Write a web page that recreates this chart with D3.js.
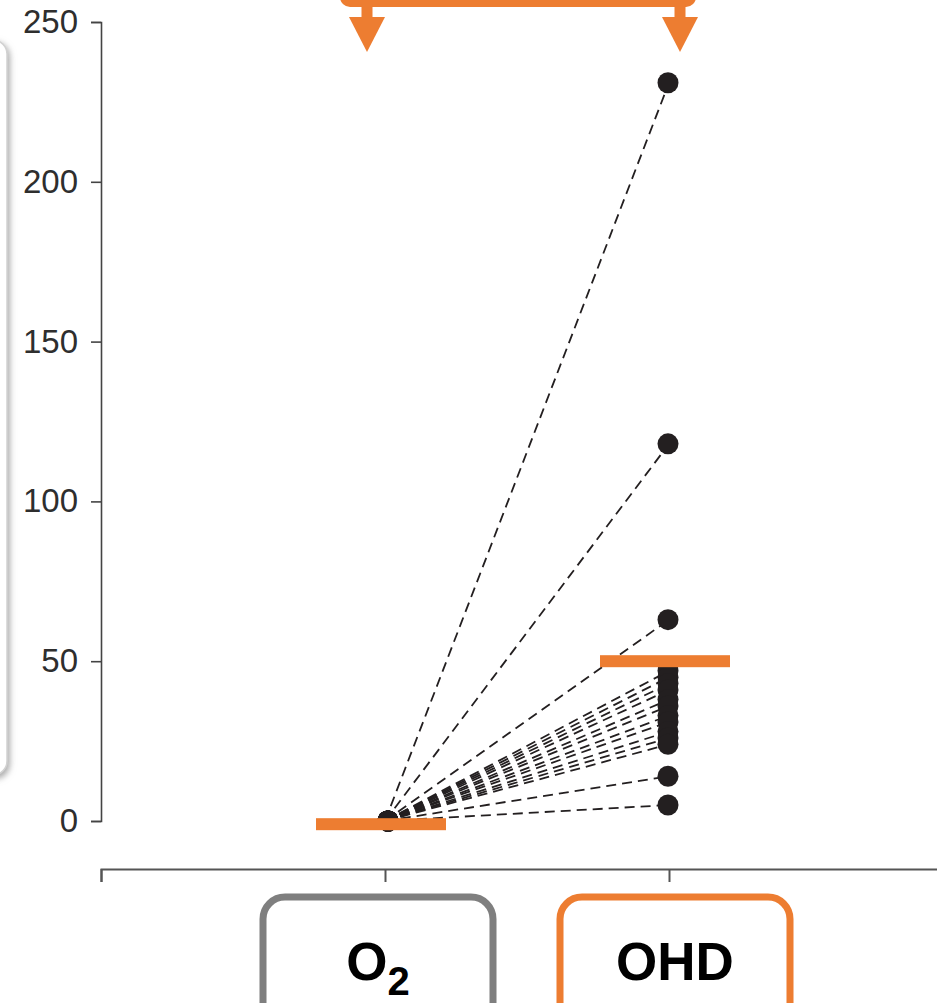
<!DOCTYPE html>
<html>
<head>
<meta charset="utf-8">
<script src="https://cdn.jsdelivr.net/npm/d3@7"></script>
<style>
  html, body { margin: 0; padding: 0; background: #fff; }
  svg { display: block; }
</style>
</head>
<body>
<div id="chart"></div>
<script>
// Paired measurements: each subject under O2 and under OHD
const categories = ["O2", "OHD"];
const o2Values  = [0, 0, 0, 0, 0, 0, 0, 0, 0, 0, 0, 0, 0, 0, 0, 0];
const ohdValues = [231, 118, 63, 47, 45, 43, 41, 38, 36, 33, 31, 28, 26, 24, 14, 5];
const medianValues = [-1, 50];
const yTicks = [0, 50, 100, 150, 200, 250];

const W = 937, H = 1003;
const orange = "#ED7D31";
const ink = "#231f20";

const svg = d3.select("#chart").append("svg")
  .attr("width", W).attr("height", H);

const defs = svg.append("defs");
const shadow = defs.append("filter").attr("id", "soft-shadow")
  .attr("x", "-50%").attr("y", "-10%").attr("width", "200%").attr("height", "120%");
shadow.append("feDropShadow")
  .attr("dx", 2).attr("dy", 3).attr("stdDeviation", 3)
  .attr("flood-color", "#999").attr("flood-opacity", 0.85);

// Side panel edge on the left
svg.append("rect")
  .attr("x", -40).attr("y", 40).attr("width", 47).attr("height", 735)
  .attr("rx", 14)
  .attr("fill", "#fff").attr("stroke", "#d2d2d2").attr("stroke-width", 1.5)
  .attr("filter", "url(#soft-shadow)");

// Scales: categories sit at positions 1 and 2 on a 0..3 axis
const x = d3.scaleLinear().domain([0, 3]).range([101, 953]);
const y = d3.scaleLinear().domain([0, 250]).range([821, 22]);
const catX = i => x(i + 1);

// Y axis
const yAxis = svg.append("g")
  .attr("transform", `translate(${x(0)},0)`)
  .call(d3.axisLeft(y).tickValues(yTicks).tickSize(10).tickPadding(13));
yAxis.select(".domain").attr("stroke", "#444").attr("stroke-width", 1.6);
yAxis.selectAll(".tick line").attr("stroke", "#444").attr("stroke-width", 1.6);
yAxis.selectAll(".tick text")
  .attr("font-family", "'Liberation Sans', Arial, sans-serif")
  .attr("font-size", 33).attr("fill", "#2e2e2e");

// X axis (no tick labels; categories are boxed below)
const xAxis = svg.append("g")
  .attr("transform", "translate(0,869)")
  .call(d3.axisBottom(x).tickValues([0, 1, 2, 3]).tickSize(13).tickFormat(""));
xAxis.select(".domain").attr("stroke", "#555").attr("stroke-width", 2);
xAxis.selectAll(".tick line").attr("stroke", "#555").attr("stroke-width", 2);

// Dashed connectors between paired values
const pairs = o2Values.map((v, i) => ({ a: v, b: ohdValues[i] }));
svg.append("g").selectAll("line").data(pairs).join("line")
  .attr("x1", catX(0)).attr("y1", d => y(d.a))
  .attr("x2", catX(1)).attr("y2", d => y(d.b))
  .attr("stroke", ink).attr("stroke-width", 1.8)
  .attr("stroke-dasharray", "10,6");

// Points
const dotR = 10.5;
svg.append("g").selectAll("circle.o2").data(o2Values).join("circle")
  .attr("class", "o2")
  .attr("cx", catX(0) + 3).attr("cy", d => y(d)).attr("r", dotR).attr("fill", ink);
svg.append("g").selectAll("circle.ohd").data(ohdValues).join("circle")
  .attr("class", "ohd")
  .attr("cx", catX(1) - 1).attr("cy", d => y(d)).attr("r", dotR).attr("fill", ink);

// Median bars
const barW = 130, barH = 12, barShift = -4;
svg.append("g").selectAll("rect").data(medianValues).join("rect")
  .attr("x", (d, i) => catX(i) + barShift - barW / 2)
  .attr("y", d => y(d) - barH / 2)
  .attr("width", barW).attr("height", barH)
  .attr("fill", orange);

// Comparison bracket with arrows at the top
const bracket = svg.append("g").attr("fill", orange);
const leftTip = catX(0) - 18, rightTip = catX(1) + 11;
bracket.append("rect")
  .attr("x", leftTip - 27).attr("y", -20)
  .attr("width", (rightTip + 16) - (leftTip - 27)).attr("height", 27)
  .attr("rx", 10);
[leftTip, rightTip].forEach(tx => {
  bracket.append("rect").attr("x", tx - 5.5).attr("y", 4).attr("width", 11).attr("height", 15);
  bracket.append("path")
    .attr("d", `M${tx - 18},17 L${tx + 18},17 L${tx},52 Z`);
});

// Category label boxes
const boxes = [
  { label: "O", sub: "2", stroke: "#7f7f7f", cx: catX(0) - 7 },
  { label: "OHD", sub: "", stroke: orange, cx: catX(1) + 6 }
];
const boxW = 230;
boxes.forEach(b => {
  svg.append("rect")
    .attr("x", b.cx - boxW / 2).attr("y", 897)
    .attr("width", boxW).attr("height", 160)
    .attr("rx", 22)
    .attr("fill", "#fff").attr("stroke", b.stroke).attr("stroke-width", 7);
  const t = svg.append("text")
    .attr("x", b.cx).attr("y", 980)
    .attr("text-anchor", "middle")
    .attr("font-family", "'Liberation Sans', Arial, sans-serif")
    .attr("font-weight", "bold").attr("font-size", 53)
    .attr("fill", "#000");
  t.append("tspan").text(b.label);
  if (b.sub) {
    t.append("tspan").attr("dy", 15).attr("font-size", 40).text(b.sub);
  }
});
</script>
</body>
</html>
